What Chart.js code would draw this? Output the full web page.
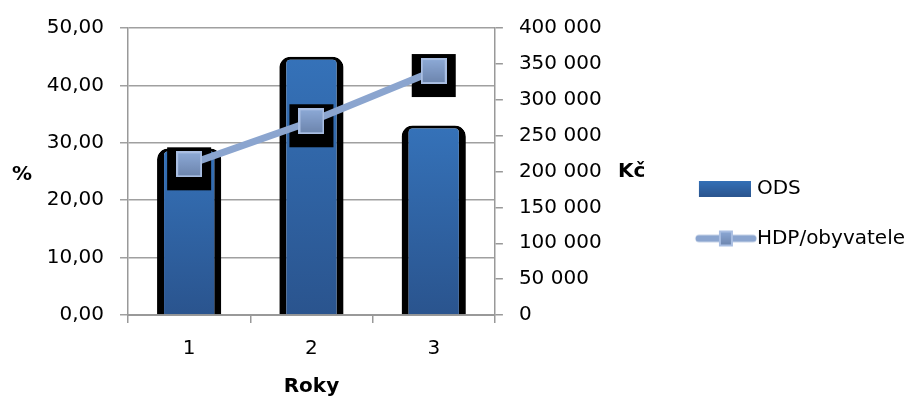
<!DOCTYPE html>
<html>

<head>
  <script src="https://cdn.jsdelivr.net/npm/chart.js"></script>
  <style>
    body { margin: 0; background: #fff; }
    .chart-container { position: relative; width: 924px; height: 401px; }
  </style>
</head>

<body>
  <div class="chart-container">
    <canvas id="myChart"></canvas>
  </div>
  <script type="text/javascript">
    // data
    var years = ['1', '2', '3'];
    var odsPercent = [29, 45, 33];
    var hdpPerCapita = [210000, 270000, 340000];
    var percentMax = 50, percentStep = 10;
    var korunaMax = 400000, korunaStep = 50000;

    var FONT = 'DejaVu Sans';
    Chart.defaults.font.family = FONT;
    Chart.defaults.font.size = 20;
    Chart.defaults.color = '#000';

    // marker square with gradient
    function makeMarker(w, h) {
      var c = document.createElement('canvas');
      c.width = w; c.height = h;
      var g = c.getContext('2d');
      var grad = g.createLinearGradient(0, 0, 0, h);
      grad.addColorStop(0, '#8eabd8');
      grad.addColorStop(1, '#6b83ab');
      g.fillStyle = grad;
      g.fillRect(0, 0, w, h);
      g.strokeStyle = '#a9bee2';
      g.lineWidth = 2;
      g.strokeRect(1, 1, w - 2, h - 2);
      return c;
    }
    var markerImg = makeMarker(26, 26);

    // legend swatches
    var odsSwatch = (function() {
      var c = document.createElement('canvas');
      c.width = 60; c.height = 16;
      var g = c.getContext('2d');
      var grad = g.createLinearGradient(0, 0, 0, 16);
      grad.addColorStop(0, '#3471b8');
      grad.addColorStop(1, '#2b558f');
      g.fillStyle = grad;
      g.fillRect(8, 0, 52, 16);
      return c;
    })();
    var hdpSwatch = (function() {
      var c = document.createElement('canvas');
      c.width = 72; c.height = 20;
      var g = c.getContext('2d');
      g.strokeStyle = '#8ba5cf';
      g.lineWidth = 7;
      g.lineCap = 'round';
      g.beginPath();
      g.moveTo(14, 10);
      g.lineTo(68, 10);
      g.stroke();
      g.drawImage(makeMarker(14, 16), 34, 2);
      return c;
    })();

    function barGradient(context) {
      var chart = context.chart;
      var area = chart.chartArea;
      if (!area) return '#3069ad';
      var top = chart.scales.y.getPixelForValue(context.raw);
      var grad = chart.ctx.createLinearGradient(0, top, 0, area.bottom);
      grad.addColorStop(0, '#3572b9');
      grad.addColorStop(1, '#2a548e');
      return grad;
    }

    // black shadows behind markers (drawn before the line)
    var markerShadow = {
      id: 'markerShadow',
      beforeDatasetDraw: function(chart, args) {
        if (args.index !== 1) return;
        var ctx = chart.ctx;
        ctx.save();
        ctx.fillStyle = '#000';
        args.meta.data.forEach(function(pt) {
          ctx.fillRect(pt.x - 22, pt.y - 17, 44, 43);
        });
        ctx.restore();
      }
    };

    // horizontal side titles
    var sideTitles = {
      id: 'sideTitles',
      afterDraw: function(chart) {
        var ctx = chart.ctx;
        var area = chart.chartArea;
        var cy = (area.top + area.bottom) / 2;
        ctx.save();
        ctx.fillStyle = '#000';
        ctx.font = 'bold 20px ' + FONT;
        ctx.textBaseline = 'middle';
        ctx.textAlign = 'left';
        ctx.fillText('%', 12, cy + 3);
        ctx.fillText('Kč', chart.scales.y1.left + 123, cy);
        ctx.restore();
      }
    };

    var ctx = document.getElementById('myChart').getContext('2d');
    var chart = new Chart(ctx, {
      type: 'bar',
      data: {
        labels: years,
        datasets: [{
            label: 'ODS',
            data: odsPercent,
            yAxisID: 'y',
            backgroundColor: barGradient,
            borderColor: '#000',
            borderWidth: { left: 7, right: 7, top: 3, bottom: 0 },
            borderRadius: { topLeft: 11, topRight: 11, bottomLeft: 0, bottomRight: 0 },
            borderSkipped: false,
            barPercentage: 0.525,
            categoryPercentage: 1,
            order: 2
          },
          {
            type: 'line',
            label: 'HDP/obyvatele',
            data: hdpPerCapita,
            yAxisID: 'y1',
            borderColor: '#8ba5cf',
            borderWidth: 7,
            tension: 0,
            pointStyle: markerImg,
            pointRadius: 13,
            order: 1
          }
        ]
      },
      options: {
        responsive: true,
        maintainAspectRatio: false,
        animation: false,
        layout: { padding: { top: 26, left: 0, right: 9, bottom: 0 } },
        plugins: {
          tooltip: { enabled: false },
          legend: {
            position: 'right',
            maxWidth: 260,
            labels: {
              usePointStyle: true,
              pointStyleWidth: 52,
              padding: 30,
              font: { size: 20 },
              sort: function(a, b) { return a.datasetIndex - b.datasetIndex; },
              generateLabels: function(chart) {
                var items = Chart.defaults.plugins.legend.labels.generateLabels(chart);
                items.forEach(function(item) {
                  item.pointStyle = item.datasetIndex === 0 ? odsSwatch : hdpSwatch;
                });
                return items;
              }
            }
          }
        },
        scales: {
          x: {
            offset: true,
            grid: { offset: true, drawOnChartArea: false, color: '#999', lineWidth: 1.5, tickLength: 8 },
            border: { color: '#999', width: 2 },
            ticks: { padding: 14 },
            title: { display: true, text: 'Roky', font: { size: 20, weight: 'bold' }, padding: { top: 0, bottom: 2 } }
          },
          y: {
            position: 'left',
            min: 0,
            max: percentMax,
            ticks: {
              stepSize: percentStep,
              padding: 16,
              callback: function(v) { return v.toFixed(2).replace('.', ','); }
            },
            grid: { color: '#a0a0a0', lineWidth: 1.5, tickLength: 8 },
            border: { color: '#999', width: 1.5 },
            afterFit: function(s) { s.width = 128; }
          },
          y1: {
            position: 'right',
            min: 0,
            max: korunaMax,
            ticks: {
              stepSize: korunaStep,
              padding: 16,
              callback: function(v) { return String(v).replace(/\B(?=(\d{3})+(?!\d))/g, ' '); }
            },
            grid: { drawOnChartArea: false, color: '#999', lineWidth: 1.5, tickLength: 8 },
            border: { color: '#999', width: 1.5 },
            afterFit: function(s) { s.width = 170; }
          }
        }
      },
      plugins: [markerShadow, sideTitles]
    });
  </script>
</body>

</html>
